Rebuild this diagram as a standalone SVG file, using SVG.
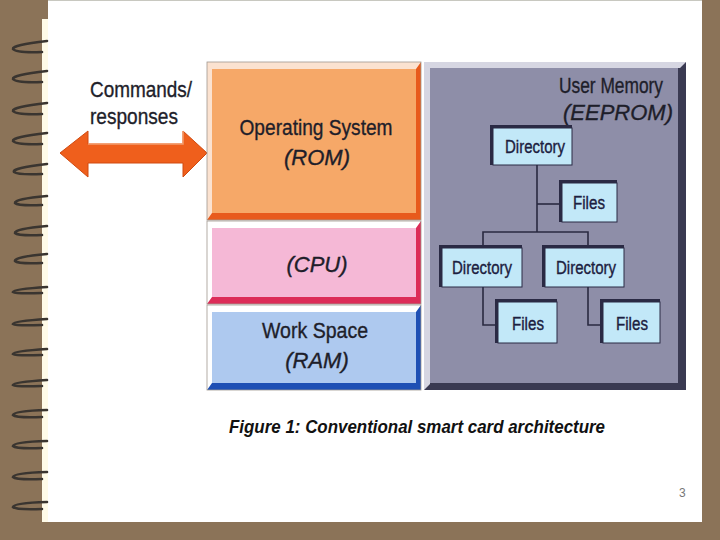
<svg xmlns="http://www.w3.org/2000/svg" width="720" height="540" viewBox="0 0 720 540">
<defs>
<style>
.t{font-family:"Liberation Sans",Arial,sans-serif;fill:#1e1e2a;stroke:#1e1e2a;stroke-width:0.35}
.lbl{font-size:22px}
.it{font-style:italic}
.box{font-size:18px;text-anchor:middle;fill:#1c2040;stroke:#1c2040}
.ring{fill:none;stroke:#3a3530;stroke-width:2.6;stroke-linecap:round}
.wire{fill:none;stroke:#2a2a40;stroke-width:1.6}
.bshadow{fill:#2a2a44}
.bfill{fill:#c2e8f8;stroke:#2a2a44;stroke-width:1}
</style>
</defs>
<rect width="720" height="540" fill="#8b7358"/>
<rect x="48" y="0" width="654" height="522" fill="#ffffff"/>
<rect x="42" y="19" width="6" height="503" fill="#fffbe8"/>
<line x1="48" y1="0.5" x2="702" y2="0.5" stroke="#c8c8c0" stroke-width="1"/>
<g id="spiral">
<path class="ring" d="M47,41 Q12,45 13,49 Q16,53 42,52"/>
<path class="ring" d="M47,71 Q12,75 13,79 Q16,83 42,82"/>
<path class="ring" d="M47,103 Q12,107 13,111 Q16,115 42,114"/>
<path class="ring" d="M47,133 Q12,137 13,141 Q16,145 42,144"/>
<path class="ring" d="M47,164 Q12,168 14,172 Q18,175 42,174"/>
<path class="ring" d="M47,196 Q14,199 15,203 Q18,206 42,205"/>
<path class="ring" d="M47,226 Q14,229 15,233 Q18,236 42,235"/>
<path class="ring" d="M47,254 Q14,257 15,261 Q18,264 42,263"/>
<path class="ring" d="M47,287 Q14,289 13,292 Q16,294 42,293"/>
<path class="ring" d="M47,319 Q14,321 13,324 Q16,326 42,325"/>
<path class="ring" d="M47,349 Q14,351 13,354 Q16,356 42,355"/>
<path class="ring" d="M47,380 Q14,382 13,385 Q16,387 42,386"/>
<path class="ring" d="M47,410 Q14,411 13,415 Q16,418 42,417"/>
<path class="ring" d="M47,441 Q14,442 13,446 Q16,449 42,448"/>
<path class="ring" d="M47,472 Q14,473 13,477 Q16,480 42,479"/>
<path class="ring" d="M47,502 Q14,503 13,507 Q16,510 42,509"/>
</g>
<g id="arrow">
<polygon points="60,153 88,131 88,144 183,144 183,131 207,153 183,177 183,163 88,163 88,177" fill="#ef5f1c" stroke="#d04a10" stroke-width="1"/>
<polyline points="88,144 183,144 183,131" fill="none" stroke="#f8a070" stroke-width="1.5"/>
</g>
<g id="cmd-label">
<text class="t lbl" x="90" y="97" textLength="102" lengthAdjust="spacingAndGlyphs">Commands/</text>
<text class="t lbl" x="90" y="124" textLength="88" lengthAdjust="spacingAndGlyphs">responses</text>
</g>
<g id="rom">
<rect x="207" y="62" width="214" height="158" fill="#e85a1c"/>
<polygon points="207,62 421,62 416,69 212,69 212,213 207,220" fill="#fbe2d0"/>
<rect x="212" y="69" width="204" height="144" fill="#f6a868"/>
<rect x="207" y="62" width="214" height="158" fill="none" stroke="#a09890" stroke-width="0.8"/>
<text class="t lbl" x="316" y="135" text-anchor="middle" textLength="153" lengthAdjust="spacingAndGlyphs">Operating System</text>
<text class="t lbl it" x="317" y="165" text-anchor="middle">(ROM)</text>
</g>
<g id="cpu">
<rect x="207" y="221" width="214" height="83" fill="#dc2c58"/>
<polygon points="207,221 421,221 416,228 212,228 212,297 207,304" fill="#ffffff"/>
<rect x="212" y="228" width="204" height="69" fill="#f5b8d6"/>
<rect x="207" y="221" width="214" height="83" fill="none" stroke="#a09890" stroke-width="0.8"/>
<text class="t lbl it" x="317" y="272" text-anchor="middle">(CPU)</text>
</g>
<g id="ram">
<rect x="207" y="305" width="214" height="85" fill="#1e4fb4"/>
<polygon points="207,305 421,305 416,312 212,312 212,383 207,390" fill="#ffffff"/>
<rect x="212" y="312" width="204" height="71" fill="#aec9ef"/>
<rect x="207" y="305" width="214" height="85" fill="none" stroke="#a09890" stroke-width="0.8"/>
<text class="t lbl" x="315" y="338" text-anchor="middle" textLength="106" lengthAdjust="spacingAndGlyphs">Work Space</text>
<text class="t lbl it" x="317" y="368" text-anchor="middle">(RAM)</text>
</g>
<g id="eeprom">
<rect x="424" y="62" width="262" height="328" fill="#3a3a52"/>
<polygon points="424,62 686,62 680,68 430,68 430,384 424,390" fill="#d6d6e2"/>
<rect x="430" y="68" width="248" height="315" fill="#8e8ea8"/>
<text class="t lbl" x="663" y="93" text-anchor="end" textLength="104" lengthAdjust="spacingAndGlyphs">User Memory</text>
<text class="t lbl it" x="673" y="120" text-anchor="end">(EEPROM)</text>
</g>
<g id="connectors">
<polyline class="wire" points="537,165 537,232"/>
<polyline class="wire" points="537,204 562,204"/>
<polyline class="wire" points="483,248 483,232 588,232 588,248"/>
<polyline class="wire" points="483,287 483,325 498,325"/>
<polyline class="wire" points="588,287 588,325 603,325"/>
</g>
<g id="dir-top">
<rect class="bshadow" x="490" y="125" width="82" height="40"/>
<rect class="bfill" x="493" y="128" width="79" height="37"/>
<text class="t box" x="535" y="153" textLength="60" lengthAdjust="spacingAndGlyphs">Directory</text>
</g>
<g id="files-top">
<rect class="bshadow" x="559" y="180" width="58" height="42"/>
<rect class="bfill" x="562" y="183" width="55" height="39"/>
<text class="t box" x="589" y="209" textLength="32" lengthAdjust="spacingAndGlyphs">Files</text>
</g>
<g id="dir-left">
<rect class="bshadow" x="439" y="245" width="83" height="42"/>
<rect class="bfill" x="442" y="248" width="80" height="39"/>
<text class="t box" x="482" y="274" textLength="60" lengthAdjust="spacingAndGlyphs">Directory</text>
</g>
<g id="dir-right">
<rect class="bshadow" x="542" y="245" width="82" height="42"/>
<rect class="bfill" x="545" y="248" width="79" height="39"/>
<text class="t box" x="586" y="274" textLength="60" lengthAdjust="spacingAndGlyphs">Directory</text>
</g>
<g id="files-left">
<rect class="bshadow" x="495" y="299" width="62" height="44"/>
<rect class="bfill" x="498" y="302" width="59" height="41"/>
<text class="t box" x="528" y="330" textLength="32" lengthAdjust="spacingAndGlyphs">Files</text>
</g>
<g id="files-right">
<rect class="bshadow" x="600" y="299" width="60" height="44"/>
<rect class="bfill" x="603" y="302" width="57" height="41"/>
<text class="t box" x="632" y="330" textLength="32" lengthAdjust="spacingAndGlyphs">Files</text>
</g>
<g id="caption">
<text x="229" y="433" font-family="Liberation Sans, Arial, sans-serif" font-size="19" font-weight="bold" font-style="italic" textLength="376" lengthAdjust="spacingAndGlyphs" fill="#111">Figure 1: Conventional smart card architecture</text>
</g>
<text x="679" y="497" font-family="Liberation Sans, sans-serif" font-size="12" fill="#777">3</text>
</svg>
